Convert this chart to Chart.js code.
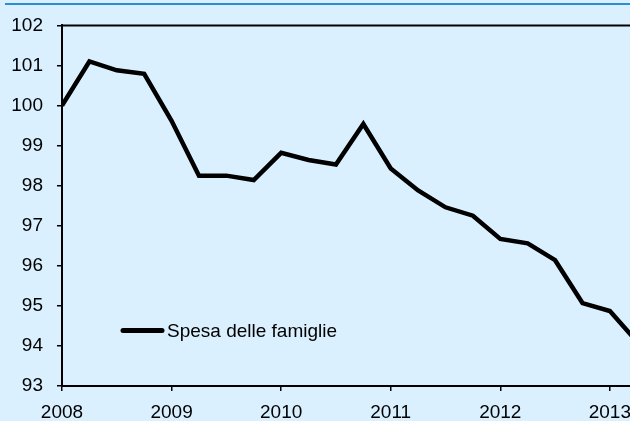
<!DOCTYPE html>
<html>
<head>
<meta charset="utf-8">
<script src="https://cdn.jsdelivr.net/npm/chart.js@4.4.1/dist/chart.umd.min.js"></script>
<style>
  html, body { margin: 0; padding: 0; background: #daf0ff; }
  #frame { position: relative; width: 630px; height: 421px; overflow: hidden; background: #daf0ff; }
  #topBar { position: absolute; left: 5px; top: 3px; width: 700px; height: 2px; background: #2a8ed0; }
  #wrap { position: absolute; left: 0; top: 0; width: 680px; height: 440px; }
</style>
</head>
<body>
<div id="frame">
  <div id="topBar"></div>
  <div id="wrap"><canvas id="chart" width="680" height="440"></canvas></div>
</div>
<script>
// quarterly observations, 2008 Q1 = 2008.00
const quarters = [2008.00, 2008.25, 2008.50, 2008.75, 2009.00, 2009.25, 2009.50, 2009.75,
                  2010.00, 2010.25, 2010.50, 2010.75, 2011.00, 2011.25, 2011.50, 2011.75,
                  2012.00, 2012.25, 2012.50, 2012.75, 2013.00, 2013.25];
const spesa = [100.0, 101.1, 100.88, 100.79, 99.62, 98.25, 98.25, 98.14,
               98.82, 98.64, 98.53, 99.54, 98.43, 97.88, 97.46, 97.25,
               96.67, 96.56, 96.14, 95.07, 94.87, 94.1];
const seriesLabel = 'Spesa delle famiglie';
const xTicks = [2008, 2009, 2010, 2011, 2012, 2013];
const yTicks = [93, 94, 95, 96, 97, 98, 99, 100, 101, 102];

const FONT = { family: '"Liberation Sans", Arial, sans-serif', size: 19 };

// top frame line + legend drawn inside the plot
const framePlugin = {
  id: 'framePlugin',
  afterDraw(chart) {
    const { ctx, chartArea } = chart;
    ctx.save();
    ctx.strokeStyle = '#000';
    ctx.lineWidth = 2;
    ctx.beginPath();
    ctx.moveTo(chartArea.left, chartArea.top);
    ctx.lineTo(chartArea.right, chartArea.top);
    ctx.stroke();

    const ds = chart.data.datasets[0];
    const lx = chartArea.left + 61;
    const ly = chartArea.top + 305;
    ctx.strokeStyle = ds.borderColor;
    ctx.lineWidth = 5;
    ctx.lineCap = 'round';
    ctx.beginPath();
    ctx.moveTo(lx, ly);
    ctx.lineTo(lx + 39, ly);
    ctx.stroke();
    ctx.fillStyle = '#000';
    ctx.font = FONT.size + 'px ' + FONT.family;
    ctx.textBaseline = 'middle';
    ctx.textAlign = 'left';
    ctx.fillText(ds.label, lx + 44, ly + 1);
    ctx.restore();
  }
};

new Chart(document.getElementById('chart'), {
  type: 'line',
  data: {
    datasets: [{
      label: seriesLabel,
      data: quarters.map((q, i) => ({ x: q, y: spesa[i] })),
      borderColor: '#000',
      borderWidth: 4.5,
      pointRadius: 0,
      tension: 0,
      fill: false
    }]
  },
  options: {
    responsive: false,
    animation: false,
    layout: { padding: { top: 25, left: 0, right: 0, bottom: 0 } },
    plugins: { legend: { display: false }, tooltip: { enabled: false } },
    scales: {
      x: {
        type: 'linear',
        min: 2008,
        max: 2013.64,
        afterFit: s => { s.height = 54; },
        afterBuildTicks: s => { s.ticks = xTicks.map(v => ({ value: v })); },
        grid: { drawOnChartArea: false, drawTicks: true, tickLength: 5, color: '#000', lineWidth: 1.5 },
        border: { display: true, color: '#000', width: 2 },
        ticks: { color: '#000', font: FONT, padding: 10, maxRotation: 0, autoSkip: false, callback: v => String(v) }
      },
      y: {
        min: 93,
        max: 102,
        afterFit: s => { s.width = 62; },
        afterBuildTicks: s => { s.ticks = yTicks.map(v => ({ value: v })); },
        grid: { drawOnChartArea: false, drawTicks: true, tickLength: 5, color: '#000', lineWidth: 1.5 },
        border: { display: true, color: '#000', width: 2 },
        ticks: { color: '#000', font: FONT, padding: 14, autoSkip: false, callback: v => String(v) }
      }
    }
  },
  plugins: [framePlugin]
});
</script>
</body>
</html>
